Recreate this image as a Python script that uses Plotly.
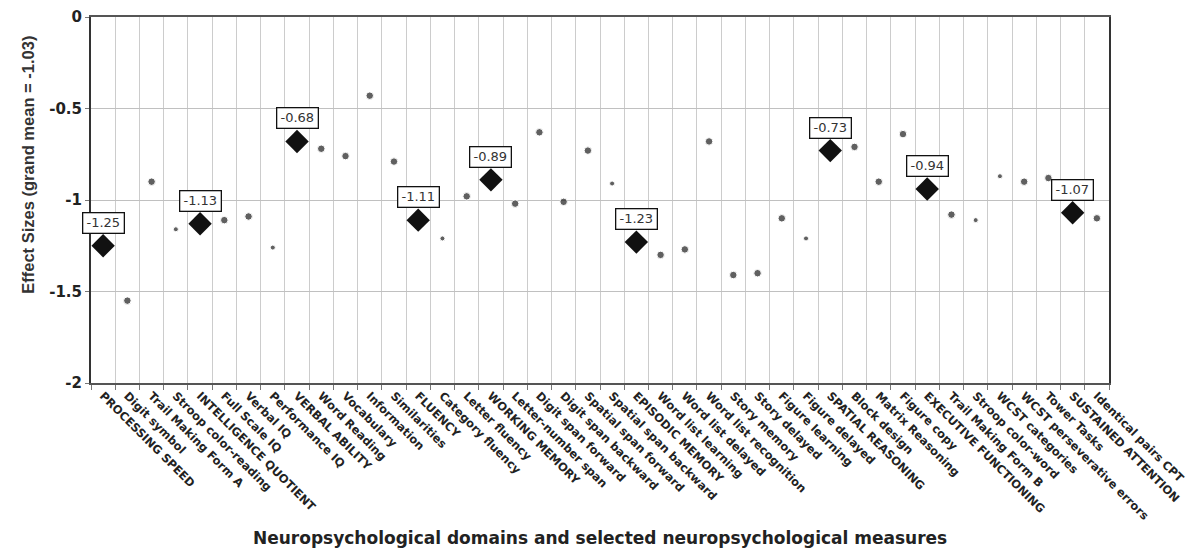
import plotly.graph_objects as go

measures = [
    "PROCESSING SPEED", "Digit symbol", "Trail Making Form A", "Stroop color-reading",
    "INTELLIGENCE QUOTIENT", "Full Scale IQ", "Verbal IQ", "Performance IQ",
    "VERBAL ABILITY", "Word Reading", "Vocabulary", "Information", "Similarities",
    "FLUENCY", "Category fluency", "Letter fluency",
    "WORKING MEMORY", "Letter-number span", "Digit span forward", "Digit span backward",
    "Spatial span forward", "Spatial span backward",
    "EPISODIC MEMORY", "Word list learning", "Word list delayed", "Word list recognition",
    "Story memory", "Story delayed", "Figure learning", "Figure delayed",
    "SPATIAL REASONING", "Block design", "Matrix Reasoning", "Figure copy",
    "EXECUTIVE FUNCTIONING", "Trail Making Form B", "Stroop color-word", "WCST categories",
    "WCST perseverative errors", "Tower Tasks",
    "SUSTAINED ATTENTION", "Identical pairs CPT",
]

effect_sizes = [
    -1.25, -1.55, -0.90, -1.16,
    -1.13, -1.11, -1.09, -1.26,
    -0.68, -0.72, -0.76, -0.43, -0.79,
    -1.11, -1.21, -0.98,
    -0.89, -1.02, -0.63, -1.01,
    -0.73, -0.91,
    -1.23, -1.30, -1.27, -0.68,
    -1.41, -1.40, -1.10, -1.21,
    -0.73, -0.71, -0.90, -0.64,
    -0.94, -1.08, -1.11, -0.87,
    -0.90, -0.88,
    -1.07, -1.10,
]

domains = ["PROCESSING SPEED", "INTELLIGENCE QUOTIENT", "VERBAL ABILITY", "FLUENCY",
           "WORKING MEMORY", "EPISODIC MEMORY", "SPATIAL REASONING",
           "EXECUTIVE FUNCTIONING", "SUSTAINED ATTENTION"]

# style: measures drawn with a smaller dot
small_dots = ["Stroop color-reading", "Performance IQ", "Category fluency",
              "Spatial span backward", "Figure delayed", "Stroop color-word",
              "WCST categories"]

centers = [i + 0.5 for i in range(len(measures))]

dom_x = [centers[i] for i, m in enumerate(measures) if m in domains]
dom_y = [effect_sizes[i] for i, m in enumerate(measures) if m in domains]
mea_x = [centers[i] for i, m in enumerate(measures) if m not in domains]
mea_y = [effect_sizes[i] for i, m in enumerate(measures) if m not in domains]
mea_s = [5 if m in small_dots else 7.5 for m in measures if m not in domains]

FONT = "Liberation Sans"
WIDE = "DejaVu Sans"

fig = go.Figure()
fig.add_trace(go.Scatter(x=mea_x, y=mea_y, mode="markers",
                         marker=dict(symbol="circle", size=mea_s, color="#1e1e1e"),
                         showlegend=False))
fig.add_trace(go.Scatter(x=dom_x, y=dom_y, mode="markers",
                         marker=dict(symbol="diamond", size=18, color="#111111"),
                         showlegend=False))

for x, y in zip(dom_x, dom_y):
    fig.add_annotation(x=x, y=y, text=f"{y:.2f}", showarrow=False,
                       yanchor="bottom", yshift=12, width=36,
                       font=dict(family=WIDE, size=13, color="#333333"),
                       bgcolor="white", bordercolor="#111111", borderwidth=1.3,
                       borderpad=2)

fig.add_annotation(xref="paper", yref="paper", x=0.5, y=-0.4235,
                   xanchor="center", yanchor="middle",
                   text="<b>Neuropsychological domains and selected neuropsychological measures</b>",
                   showarrow=False, font=dict(family=WIDE, size=17, color="#222222"))
fig.add_annotation(xref="paper", yref="paper", x=-0.062, y=0.596,
                   xanchor="center", yanchor="middle",
                   text="<b>Effect Sizes (grand mean = -1.03)</b>", textangle=-90,
                   showarrow=False, font=dict(family=FONT, size=16.5, color="#333333"))

fig.update_xaxes(range=[0, len(measures)], tickmode="array", tickvals=centers,
                 ticktext=[f"<b>{m}</b>" for m in measures], tickangle=45,
                 tickfont=dict(family=WIDE, size=11.5, color="#222222"),
                 showgrid=False, ticks="", zeroline=False, automargin=False,
                 showline=True, linecolor="#555555", linewidth=1.5, mirror=True,
                 minor=dict(tickmode="array", tickvals=list(range(len(measures) + 1)),
                            ticks="outside", ticklen=5, tickcolor="#777777",
                            showgrid=True, gridcolor="#cccccc", gridwidth=1))
fig.update_yaxes(range=[-2, 0], tickmode="array", tickvals=[0, -0.5, -1, -1.5, -2],
                 ticktext=["<b>0</b>", "<b>-0.5</b>", "<b>-1</b>", "<b>-1.5</b>", "<b>-2</b>"],
                 tickfont=dict(family=WIDE, size=15, color="#222222"),
                 showgrid=True, gridcolor="#c0c0c0", gridwidth=1, zeroline=False,
                 ticks="outside", ticklen=4, tickcolor="#777777", automargin=False,
                 showline=True, linecolor="#333333", linewidth=2, mirror=True)

fig.update_layout(width=1195, height=553, plot_bgcolor="white", paper_bgcolor="white",
                  margin=dict(l=83, r=94, t=9, b=178))

fig.write_html("out.html")
